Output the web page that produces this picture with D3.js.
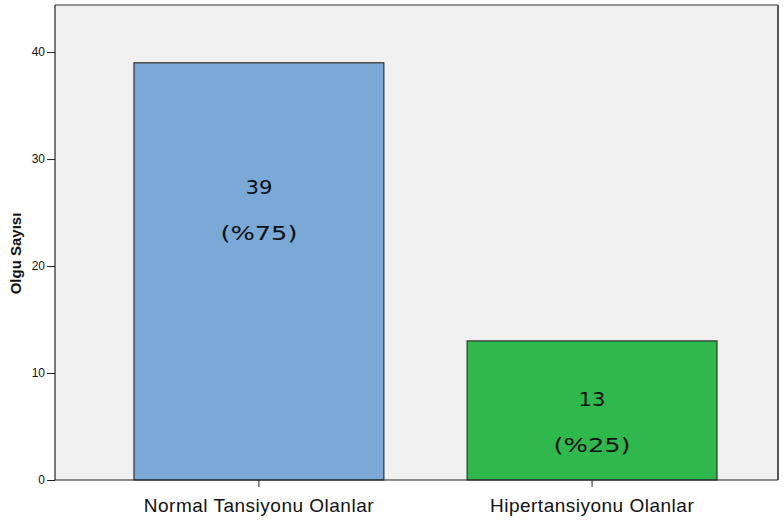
<!DOCTYPE html>
<html><head><meta charset="utf-8">
<script src="https://cdn.jsdelivr.net/npm/d3@7"></script>
<style>body{margin:0;background:#fff}svg{display:block}</style>
</head><body>
<svg id="c" width="784" height="520"></svg>
<script>
const categories = ["Normal Tansiyonu Olanlar", "Hipertansiyonu Olanlar"];
const counts = [39, 13];
const percentLabels = ["(%75)", "(%25)"];
const barColors = ["#7aa9d8", "#2fb84b"];
const yTicks = [0, 10, 20, 30, 40];
const yTitle = "Olgu Sayısı";

const svg = d3.select("#c");
const L = 55, R = 778, T = 5, B = 480;

const y = d3.scaleLinear().domain([0, 44.4]).range([B, T]);
const x = d3.scaleBand().domain(categories).range([134, 717]).paddingInner(0.25).paddingOuter(0);

// plot background
svg.append("rect").attr("x", L).attr("y", T).attr("width", R - L).attr("height", B - T)
  .attr("fill", "#f0f0f0");
// frame top/right
svg.append("line").attr("x1", L).attr("x2", R).attr("y1", T).attr("y2", T).attr("stroke", "#333").attr("stroke-width", 1.2);
svg.append("line").attr("x1", R).attr("x2", R).attr("y1", T).attr("y2", B).attr("stroke", "#555").attr("stroke-width", 2);

// bars
svg.selectAll("rect.bar").data(counts).join("rect").attr("class", "bar")
  .attr("x", (d, i) => x(categories[i]))
  .attr("y", d => y(d))
  .attr("width", x.bandwidth())
  .attr("height", d => B - y(d))
  .attr("fill", (d, i) => barColors[i])
  .attr("stroke", "#333").attr("stroke-width", 1.2);

// bar labels
const labelOffsets = [124, 58];
counts.forEach((d, i) => {
  const cx = x(categories[i]) + x.bandwidth() / 2;
  const yy = y(d) + labelOffsets[i];
  svg.append("text").attr("x", cx).attr("y", yy).attr("dy", "0.35em")
    .attr("text-anchor", "middle").attr("font-family", "DejaVu Sans").attr("font-size", 20)
    .attr("textLength", 27).attr("lengthAdjust", "spacingAndGlyphs")
    .attr("fill", "#111").text(d);
  svg.append("text").attr("x", cx).attr("y", yy + 46).attr("dy", "0.35em")
    .attr("text-anchor", "middle").attr("font-family", "DejaVu Sans").attr("font-size", 20)
    .attr("textLength", 77).attr("lengthAdjust", "spacingAndGlyphs")
    .attr("fill", "#111").text(percentLabels[i]);
});

// y axis
const yAxis = svg.append("g").attr("transform", `translate(${L},0)`)
  .call(d3.axisLeft(y).tickValues(yTicks).tickSize(8).tickPadding(2).tickSizeOuter(0));
yAxis.select(".domain").attr("d", `M0,${T}V${B}`).attr("stroke", "#222").attr("stroke-width", 1.2);
yAxis.selectAll(".tick line").attr("stroke", "#222");
yAxis.selectAll(".tick text").attr("font-family", "Liberation Sans, Arial, sans-serif").attr("font-size", 12).attr("fill", "#111");

// x axis
const xAxis = svg.append("g").attr("transform", `translate(0,${B})`)
  .call(d3.axisBottom(x).tickSize(7).tickPadding(12).tickSizeOuter(0));
xAxis.select(".domain").attr("d", `M${L},0H${R}`).attr("stroke", "#222").attr("stroke-width", 1.2);
xAxis.selectAll(".tick line").attr("stroke", "#222");
xAxis.selectAll(".tick text").attr("font-family", "Liberation Sans, Arial, sans-serif").attr("font-size", 19)
  .attr("letter-spacing", 0.5).attr("fill", "#111");

// y title
svg.append("text").attr("transform", `translate(21,${(T + B) / 2 + 11}) rotate(-90)`)
  .attr("text-anchor", "middle").attr("font-family", "Liberation Sans, Arial, sans-serif")
  .attr("font-weight", "bold").attr("font-size", 15).attr("fill", "#111").text(yTitle);
</script>
</body></html>
